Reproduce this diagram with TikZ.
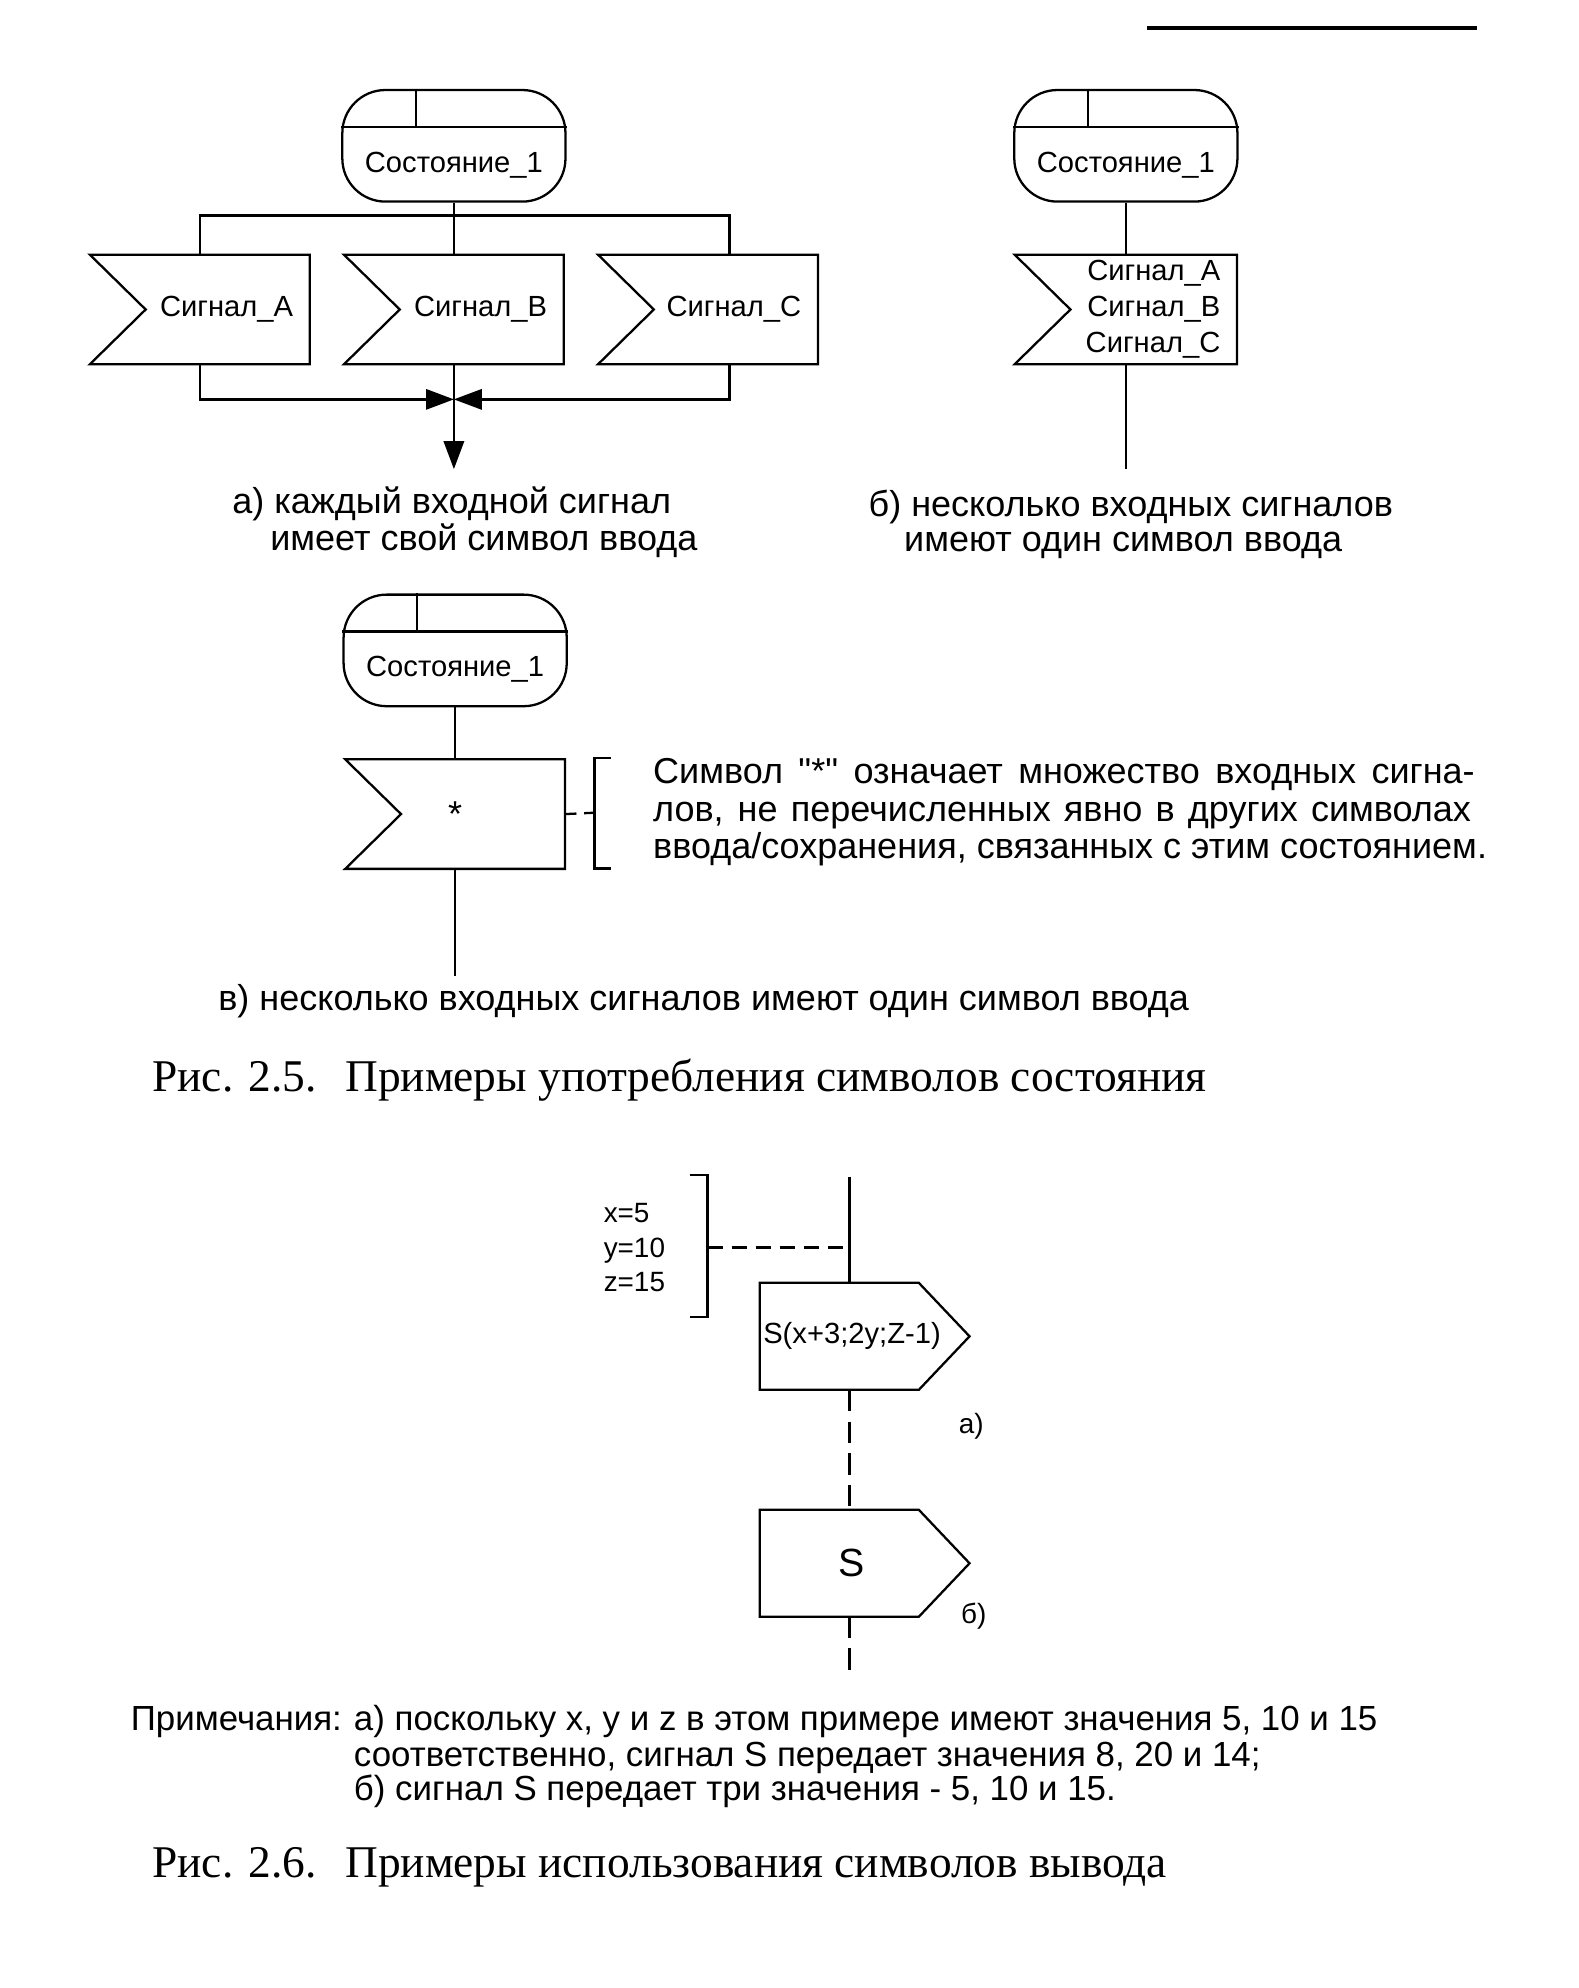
\documentclass[tikz,border=0pt]{standalone}
\usepackage{fontspec}
\setmainfont{Liberation Sans}
\newfontfamily\rawsans{Liberation Sans}[Ligatures=ResetAll]
\newfontfamily\capserif{Liberation Serif}
\usetikzlibrary{arrows.meta,positioning}
\newcommand\fsbox{\fontsize{23pt}{28.5pt}\selectfont}
\newcommand\fstext{\fontsize{28.4pt}{29pt}\selectfont}
\newcommand\fsnote{\fontsize{27.5pt}{27.5pt}\selectfont}
\newcommand\fsvar{\fontsize{22pt}{27.5pt}\selectfont}
\newcommand\fscap{\capserif\fontsize{35.8pt}{40pt}\selectfont}
\tikzset{
  wire/.style={line width=1.8pt},
  statebox/.style={
    draw,
    line width=1.8pt,
    rounded corners=34pt,
    minimum width=176pt,
    minimum height=88pt,
    inner sep=0pt
  },
  inbox/.style={
    minimum width=173pt,
    minimum height=86pt,
    text width=147pt,
    inner xsep=13pt,
    inner ysep=0pt,
    align=right,
    font=\fsbox
  },
  outbox/.style={
    minimum width=165pt,
    minimum height=84pt,
    inner sep=0pt,
    font=\fsbox,
    execute at end node={\hspace*{20pt}}
  },
  flow/.style={wire, -{Triangle[length=22pt,width=16pt]}},
  gapline/.style={wire, dash pattern=on 17pt off 8pt},
  txt/.style={anchor=base west, inner sep=0pt, font=\fstext}
}

\begin{document}
\begin{tikzpicture}[x=1pt, y=-1pt, node distance=27pt]
    \useasboundingbox (0,0) rectangle (1245,1568);
    % page rule
    \coordinate (ruleL) at (905,22);
    \coordinate (ruleR) at (1165,22);
    \draw[line width=2.6pt] (ruleL) -- (ruleR);

    % a) one input symbol per signal
    \node[statebox] (stA) at (358,115) {};
    \node[font=\fsbox] (stAtxt) at ([yshift=-15pt]stA.center) {Состояние\_1};
    \node[inbox, below=41pt of stA] (inB) {Сигнал\_B};
    \node[inbox, left=of inB] (inA) {Сигнал\_A};
    \node[inbox, right=of inB] (inC) {Сигнал\_C};
    \coordinate (fork) at (358,170);
    \coordinate (cCtop) at ([xshift=17pt]inC.north);
    \coordinate (cCbot) at ([xshift=17pt]inC.south);
    \coordinate (join) at (358,315);
    \coordinate (exitA) at (358,370);
    \draw[wire] (stA) -- (inB);
    \draw[wire] (inA.north) |- (fork) -| (cCtop);
    \draw[flow] (inA.south) |- (join);
    \draw[flow] (cCbot) |- (join);
    \draw[flow] (inB) -- (exitA);
    \node[txt] (capA1) at (183,405) {а) каждый входной сигнал};
    \node[txt] (capA2) at (213,434) {имеет свой символ ввода};

    % b) several signals in one input symbol
    \node[statebox] (stB) at (888,115) {};
    \node[font=\fsbox] (stBtxt) at ([yshift=-15pt]stB.center) {Состояние\_1};
    \node[inbox, minimum width=175pt, text width=149pt, below=41pt of stB] (inD)
      {Сигнал\_A\\Сигнал\_B\\Сигнал\_C};
    \coordinate (exitD) at (888,370);
    \draw[wire] (stB) -- (inD);
    \draw[wire] (inD) -- (exitD);
    \node[txt] (capB1) at (685,407) {б) несколько входных сигналов};
    \node[txt] (capB2) at (713,435) {имеют один символ ввода};

    % c) asterisk input
    \node[statebox] (stE) at (359,513) {};
    \node[font=\fsbox] (stEtxt) at ([yshift=-15pt]stE.center) {Состояние\_1};
    \node[inbox, align=center, font=\fstext, below=41pt of stE] (inE) {*};
    \coordinate (exitE) at (359,770);
    \coordinate (brkE) at (469,641);
    \draw[wire] (stE) -- (inE);
    \draw[wire] (inE) -- (exitE);
    \draw[wire, dash pattern=on 9pt off 6pt] (inE.east) -- (brkE);
    \draw[wire] (482,598) -- (469,598) -- (469,685) -- (482,685);
    \node[txt] (remE1) at (515,618) {\makebox[648pt][s]{Символ {\rawsans"*"} означает множество входных сигна-}};
    \node[txt] (remE2) at (515,648) {\makebox[645pt][s]{лов, не перечисленных явно в других символах}};
    \node[txt] (remE3) at (515,677) {ввода/сохранения, связанных с этим состоянием.};
    \node[txt] (capE) at (172,797) {в) несколько входных сигналов имеют один символ ввода};

    \foreach \s in {stA,stB,stE} {
      \draw[wire] ([yshift=-30pt]\s.north west) -- ([yshift=-30pt]\s.north east);
      \draw[wire] ([xshift=59pt]\s.north west) -- ([xshift=59pt,yshift=-30pt]\s.north west);
    }
    \foreach \n in {inA,inB,inC,inD,inE}
      \draw[wire] (\n.north west) -- (\n.north east) -- (\n.south east)
        -- (\n.south west) -- ([xshift=44pt]\n.west) -- cycle;

    \node[txt, font=\fscap] (fig25) at (120,861) {Рис. 2.5.\hspace{0.3em} Примеры употребления символов состояния};

    % output symbols
    \coordinate (topS) at (670,928);
    \node[outbox] (outA) at (682,1054) {S(x+3;2y;Z-1)};
    \node[outbox, font=\fontsize{31pt}{31pt}\selectfont] (outB) at (682,1233) {S};
    \coordinate (endS) at (670,1318);
    \foreach \n in {outA,outB}
      \draw[wire] (\n.north west) -- ([xshift=-40pt]\n.north east) -- (\n.east)
        -- ([xshift=-40pt]\n.south east) -- (\n.south west) -- cycle;
    \draw[wire] (topS) -- (topS |- outA.north);
    \draw[gapline] (outA.south -| topS) -- (outB.north -| topS);
    \draw[gapline] (outB.south -| topS) -- (endS);
    \node[txt, font=\fsvar] (xv) at (476,964) {x=5};
    \node[txt, font=\fsvar] (yv) at (476,992) {y=10};
    \node[txt, font=\fsvar] (zv) at (476,1019) {z=15};
    \coordinate (brkS) at (558,984);
    \draw[wire] (544,927) -- (558,927) -- (558,1039) -- (544,1039);
    \draw[wire, dash pattern=on 12pt off 7pt] (brkS) -- (brkS -| topS);
    \node[font=\fsvar] (lblA) at (766,1125) {а)};
    \node[font=\fsvar] (lblB) at (768,1275) {б)};

    % notes
    \node[txt, font=\fsnote] (notesHd) at (103,1365) {Примечания:};
    \node[txt, font=\fsnote] (note1) at (279,1365) {а) поскольку x, y и z в этом примере имеют значения 5, 10 и 15};
    \node[txt, font=\fsnote] (note2) at (279,1393) {соответственно, сигнал S передает значения 8, 20 и 14;};
    \node[txt, font=\fsnote] (note3) at (279,1420) {б) сигнал S передает три значения - 5, 10 и 15.};

    \node[txt, font=\fscap] (fig26) at (120,1481) {Рис. 2.6.\hspace{0.3em} Примеры использования символов вывода};
\end{tikzpicture}
\end{document}
